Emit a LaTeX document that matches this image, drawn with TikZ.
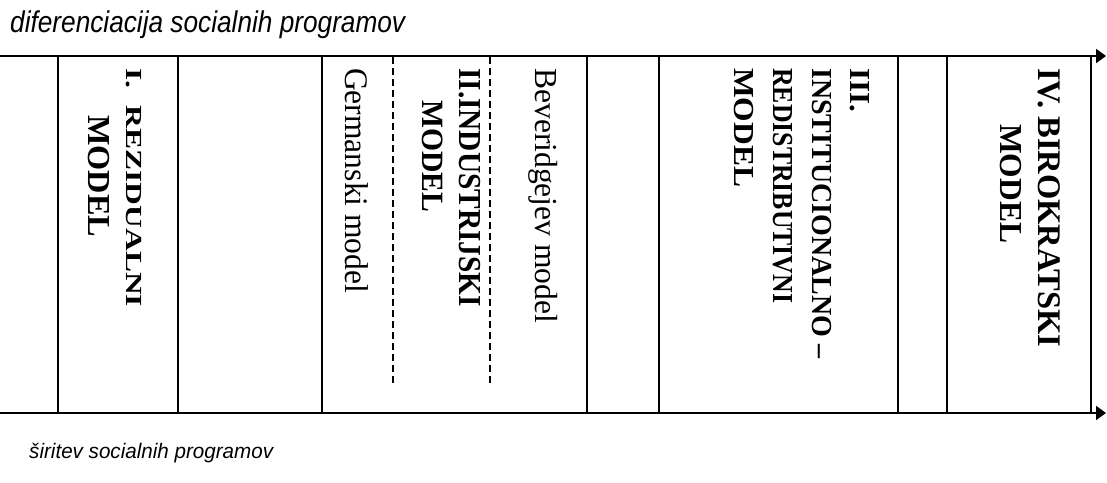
\documentclass[tikz,border=0pt]{standalone}
\usepackage{fontspec}
\setmainfont{Liberation Serif}
\setsansfont{Liberation Sans}
\usetikzlibrary{arrows.meta}

% text of a given length (pt) set at a given size (pt)
\newcommand{\fitted}[3]{\resizebox{#1pt}{\height}{\fontsize{#2}{#2}\selectfont #3}}

\begin{document}
\begin{tikzpicture}[x=1pt,y=-1pt,
  axis/.style={line width=2pt,-{Triangle[length=10pt,width=14pt]}},
  divider/.style={line width=1.4pt},
  split/.style={line width=1.3pt,dash pattern=on 7pt off 4pt},
  coltext/.style={rotate=-90,anchor=base west,inner sep=0pt},
  caption/.style={anchor=base west,inner sep=0pt,font=\sffamily\itshape}]
\useasboundingbox (0,0) rectangle (1107,482);

% axis captions
\node[caption] (top) at (10,32) {\fitted{395}{30}{diferenciacija socialnih programov}};
\node[caption] (bottom) at (29,458) {\fitted{244}{21}{širitev socialnih programov}};

% the two axes
\coordinate (tl) at (0,56);
\coordinate (tr) at (1106,56);
\coordinate (bl) at (0,413);
\coordinate (br) at (1106,413);
\draw[axis] (tl) -- (tr);
\draw[axis] (bl) -- (br);

% column borders
\foreach \x in {58,178,322,587,659,898,947,1091}
  \draw[divider] (\x,56) -- (\x,413);

% sub-model separators
\foreach \x in {393,490}
  \draw[split] (\x,57) -- (\x,383);

% I. residual model
\node[coltext] (rez1) at (126,68) {\fitted{239}{23}{\bfseries I.\hspace{0.55em}REZIDUALNI}};
\node[coltext] (rez2) at (88,115) {\fitted{122}{32}{\bfseries MODEL}};

% II. industrial model
\node[coltext] (ger) at (345,68) {\fitted{225}{33}{Germanski model}};
\node[coltext] (ind1) at (459,68) {\fitted{239}{32}{\bfseries II.INDUSTRIJSKI}};
\node[coltext] (ind2) at (422,100) {\fitted{112}{31}{\bfseries MODEL}};
\node[coltext] (bev) at (535,68) {\fitted{255}{32}{Beveridgejev model}};

% III. institutional-redistributive model
\node[coltext] (ins1) at (850,68) {\fitted{44}{29}{\bfseries III.}};
\node[coltext] (ins2) at (812,68) {\fitted{290}{29}{\bfseries INSTITUCIONALNO –}};
\node[coltext] (ins3) at (773,68) {\fitted{235}{29}{\bfseries REDISTRIBUTIVNI}};
\node[coltext] (ins4) at (734,68) {\fitted{119}{29}{\bfseries MODEL}};

% IV. bureaucratic model
\node[coltext] (bir1) at (1038,68) {\fitted{279}{33}{\bfseries IV. BIROKRATSKI}};
\node[coltext] (bir2) at (1000,124) {\fitted{119}{32}{\bfseries MODEL}};
\end{tikzpicture}
\end{document}
